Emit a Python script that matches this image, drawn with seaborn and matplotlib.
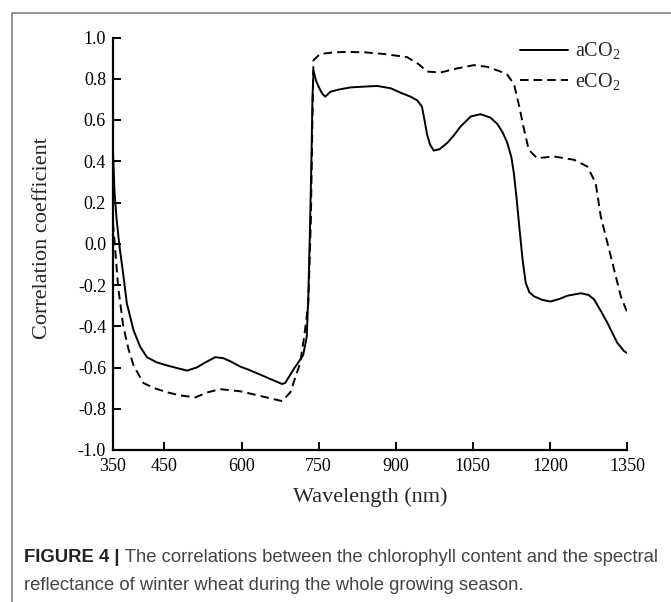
import numpy as np
import pandas as pd
import matplotlib
matplotlib.use("Agg")
import matplotlib.pyplot as plt
import seaborn as sns
from matplotlib.lines import Line2D

# ---- data ----
wl_a = [350, 353, 357, 362, 370, 377, 390, 403, 416, 435, 455, 475, 494, 513, 530, 549,
        565, 580, 597, 615, 636, 660, 679, 685, 701, 712, 720, 727, 730, 733, 736, 738, 740,
        745, 753, 758, 763, 773, 790, 812, 840, 864, 890, 909, 929, 942, 951, 956, 961, 967,
        974, 985, 1000, 1013, 1026, 1046, 1065, 1084, 1098, 1108, 1117, 1125, 1130, 1136, 1141,
        1147, 1153, 1160, 1169, 1185, 1201, 1218, 1234, 1260, 1275, 1286, 1300, 1312, 1322,
        1331, 1344, 1350]
r_a = [0.45, 0.25, 0.12, 0.00, -0.15, -0.29, -0.42, -0.50, -0.55, -0.575, -0.59, -0.603, -0.615,
       -0.60, -0.575, -0.55, -0.555, -0.572, -0.595, -0.612, -0.634, -0.66, -0.68, -0.675, -0.61,
       -0.57, -0.54, -0.45, -0.25, 0.05, 0.40, 0.70, 0.84, 0.79, 0.746, 0.725, 0.713, 0.737,
       0.748, 0.758, 0.762, 0.765, 0.754, 0.733, 0.713, 0.695, 0.665, 0.60, 0.53, 0.48,
       0.452, 0.458, 0.488, 0.525, 0.568, 0.617, 0.628, 0.612, 0.58, 0.54, 0.49, 0.42, 0.34,
       0.20, 0.068, -0.08, -0.19, -0.235, -0.255, -0.272, -0.28, -0.268, -0.252, -0.24, -0.248,
       -0.27, -0.33, -0.384, -0.435, -0.48, -0.52, -0.53]

wl_e = [350, 355, 360, 370, 380, 390, 409, 430, 455, 480, 510, 535, 558, 597, 640, 679, 695,
        714, 722, 730, 735, 738, 740, 753, 780, 805, 840, 877, 922, 945, 961, 987, 1019, 1052,
        1078, 1104, 1117, 1130, 1140, 1150, 1159, 1175, 1208, 1247, 1273, 1289, 1299, 1312,
        1325, 1338, 1350]
r_e = [0.10, -0.05, -0.21, -0.40, -0.51, -0.59, -0.675, -0.70, -0.72, -0.735, -0.745, -0.72,
       -0.705, -0.715, -0.74, -0.763, -0.72, -0.58, -0.45, -0.29, 0.12, 0.60, 0.89, 0.92, 0.928,
       0.93, 0.928, 0.92, 0.905, 0.87, 0.835, 0.83, 0.85, 0.866, 0.858, 0.835, 0.82, 0.775,
       0.67, 0.55, 0.455, 0.415, 0.423, 0.407, 0.374, 0.294, 0.132, 0.003, -0.126, -0.255, -0.33]

x_ticks = [350, 450, 600, 750, 900, 1050, 1200, 1350]
y_ticks = [-1.0, -0.8, -0.6, -0.4, -0.2, 0.0, 0.2, 0.4, 0.6, 0.8, 1.0]
y_tick_labels = ["-1.0", "-0.8", "-0.6", "-0.4", "-0.2", "0.0", "0.2", "0.4", "0.6", "0.8", "1.0"]
series_labels = [r"aCO$_\mathregular{2}$", r"eCO$_\mathregular{2}$"]
x_label = "Wavelength (nm)"
y_label = "Correlation coefficient"
cap_bold = "FIGURE 4 |"
cap_line1 = " The correlations between the chlorophyll content and the spectral"
cap_line2 = "reflectance of winter wheat during the whole growing season."

# ---- style ----
sns.set_style("ticks")
plt.rcParams["font.family"] = ["Liberation Serif", "DejaVu Serif"]
plt.rcParams["mathtext.fontset"] = "custom"
plt.rcParams["mathtext.rm"] = "Liberation Serif"
plt.rcParams["axes.unicode_minus"] = False

W, H = 671, 602
fig = plt.figure(figsize=(W / 100, H / 100), dpi=100)
fig.patch.set_facecolor("white")

L, R, T, B = 113, 627, 37.5, 450
ax = fig.add_axes([L / W, 1 - B / H, (R - L) / W, (B - T) / H])

df_a = pd.DataFrame({"wl": wl_a, "r": r_a})
df_e = pd.DataFrame({"wl": wl_e, "r": r_e})
sns.lineplot(data=df_a, x="wl", y="r", ax=ax, color="black", lw=1.4, estimator=None, sort=False)
sns.lineplot(data=df_e, x="wl", y="r", ax=ax, color="black", lw=1.4, estimator=None, sort=False,
             linestyle=(0, (4.4, 2.6)))

ax.set_xlim(350, 1350)
ax.set_ylim(-1.0, 1.0)
ax.set_xticks(x_ticks)
ax.set_xticklabels([str(v) for v in x_ticks])
ax.set_yticks(y_ticks)
ax.set_yticklabels(y_tick_labels)
ax.tick_params(direction="in", length=5.5, width=1.4, labelsize=13, colors="black", pad=5)
ax.tick_params(axis="x", pad=6)
for s in ["top", "right"]:
    ax.spines[s].set_visible(False)
for s in ["left", "bottom"]:
    ax.spines[s].set_linewidth(1.6)
    ax.spines[s].set_color("black")

ax.set_xlabel(x_label, fontsize=16)
ax.set_ylabel(y_label, fontsize=16)
ax.xaxis.label.set_va("center")
ax.yaxis.label.set_va("center")
ax.xaxis.set_label_coords(0.5, (B - 497) / (B - T))
ax.yaxis.set_label_coords((42 - L) / (R - L), (B - 238) / (B - T))

handles = [Line2D([], [], color="black", lw=1.4),
           Line2D([], [], color="black", lw=1.4, linestyle=(0, (4.4, 2.6)))]
ax.legend(handles, series_labels, loc="upper left", frameon=False, fontsize=14.5,
          bbox_to_anchor=(520 / W, 1 - 41 / H), bbox_transform=fig.transFigure,
          borderpad=0, borderaxespad=0, handlelength=2.4, handletextpad=0.35,
          labelspacing=0.45)

# frame of the figure panel (top and left edges)
fig.add_artist(Line2D([12 / W, 1], [1 - 13 / H, 1 - 13 / H], transform=fig.transFigure,
                      color="#8a8a8a", lw=1.3))
fig.add_artist(Line2D([12 / W, 12 / W], [0, 1 - 13 / H], transform=fig.transFigure,
                      color="#8a8a8a", lw=1.3))

# caption
cap_font = ["Liberation Sans", "DejaVu Sans"]
cap_size = 13.3
tb = fig.text(24 / W, 1 - 558 / H, cap_bold, fontsize=cap_size, fontweight="bold", family=cap_font,
              color="#222222", va="center", ha="left")
fig.canvas.draw()
bb = tb.get_window_extent(fig.canvas.get_renderer())
fig.text(bb.x1 / W, 1 - 558 / H, cap_line1, fontsize=cap_size, family=cap_font, color="#444444",
         va="center", ha="left")
fig.text(24 / W, 1 - 585 / H, cap_line2, fontsize=cap_size, family=cap_font, color="#444444",
         va="center", ha="left")

fig.savefig("out.png", dpi=100, facecolor="white")
